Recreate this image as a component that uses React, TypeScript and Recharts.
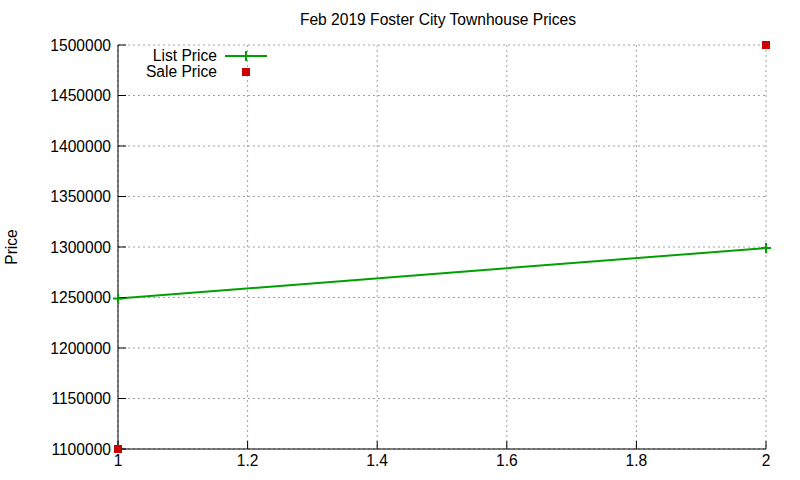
import React from 'react';
import { ComposedChart, Line, XAxis, YAxis, CartesianGrid } from 'recharts';

const xValues = [1, 2];
const listPrices = [1249000, 1299000];
const salePrices = [1100000, 1500000];
const xTicks = [1, 1.2, 1.4, 1.6, 1.8, 2];
const yTicks = [1100000, 1150000, 1200000, 1250000, 1300000, 1350000, 1400000, 1450000, 1500000];

const data = xValues.map((x, i) => ({ x, list: listPrices[i], sale: salePrices[i] }));

const FONT = '"Liberation Sans", Arial, sans-serif';
const FONT_SIZE = 15.6;
const GREEN = '#00a000';
const RED = '#cc0000';

const PlusDot = (props: any) => {
  const { cx, cy } = props;
  if (cx == null || cy == null) return null;
  return (
    <g>
      <line x1={cx - 5} x2={cx + 5} y1={cy} y2={cy} stroke={GREEN} strokeWidth={2} />
      <line x1={cx} x2={cx} y1={cy - 5} y2={cy + 5} stroke={GREEN} strokeWidth={2} />
    </g>
  );
};

const SquareDot = (props: any) => {
  const { cx, cy } = props;
  if (cx == null || cy == null) return null;
  return <rect x={cx - 4} y={cy - 4} width={8} height={8} fill={RED} />;
};

const tickStyle = { fill: '#000', fontSize: FONT_SIZE, fontFamily: FONT };

export default function App() {
  return (
    <div style={{ position: 'absolute', left: 0, top: 0, width: 800, height: 480, background: '#fff' }}>
      <ComposedChart width={800} height={480} data={data} margin={{ top: 45, right: 34, bottom: 0, left: 8 }}>
        <CartesianGrid stroke="#a0a0a0" strokeDasharray="2 3" />
        <XAxis
          dataKey="x"
          type="number"
          domain={[1, 2]}
          ticks={xTicks}
          height={31}
          tick={tickStyle}
          tickSize={-8}
          tickMargin={14}
          stroke="#000"
          tickLine={{ stroke: '#000' }}
        />
        <XAxis
          xAxisId="top"
          orientation="top"
          dataKey="x"
          type="number"
          domain={[1, 2]}
          ticks={xTicks}
          height={0}
          tick={false}
          tickSize={-8}
          stroke="#000"
          tickLine={{ stroke: '#000' }}
        />
        <YAxis
          type="number"
          domain={[1100000, 1500000]}
          ticks={yTicks}
          width={110}
          tick={tickStyle}
          tickSize={-8}
          tickMargin={15}
          stroke="#000"
          tickLine={{ stroke: '#000' }}
        />
        <YAxis
          yAxisId="right"
          orientation="right"
          type="number"
          domain={[1100000, 1500000]}
          ticks={yTicks}
          width={0}
          tick={false}
          tickSize={-8}
          stroke="#000"
          tickLine={{ stroke: '#000' }}
        />
        <Line
          dataKey="list"
          stroke={GREEN}
          strokeWidth={2}
          dot={PlusDot}
          activeDot={false}
          isAnimationActive={false}
        />
        <Line
          dataKey="sale"
          stroke="none"
          dot={SquareDot}
          activeDot={false}
          isAnimationActive={false}
        />
      </ComposedChart>
      <svg
        width={800}
        height={480}
        style={{ position: 'absolute', left: 0, top: 0, pointerEvents: 'none' }}
        fontFamily={FONT}
        fontSize={FONT_SIZE}
      >
        <text x={438} y={25} textAnchor="middle" fill="#000">
          Feb 2019 Foster City Townhouse Prices
        </text>
        <text x={17} y={247} textAnchor="middle" fill="#000" transform="rotate(-90 17 247)">
          Price
        </text>
        <text x={217} y={61} textAnchor="end" fill="#000">List Price</text>
        <line x1={225} x2={267} y1={56} y2={56} stroke={GREEN} strokeWidth={2} />
        <line x1={246} x2={246} y1={51} y2={61} stroke={GREEN} strokeWidth={2} />
        <text x={217} y={77} textAnchor="end" fill="#000">Sale Price</text>
        <rect x={242} y={68} width={8} height={8} fill={RED} />
      </svg>
    </div>
  );
}
